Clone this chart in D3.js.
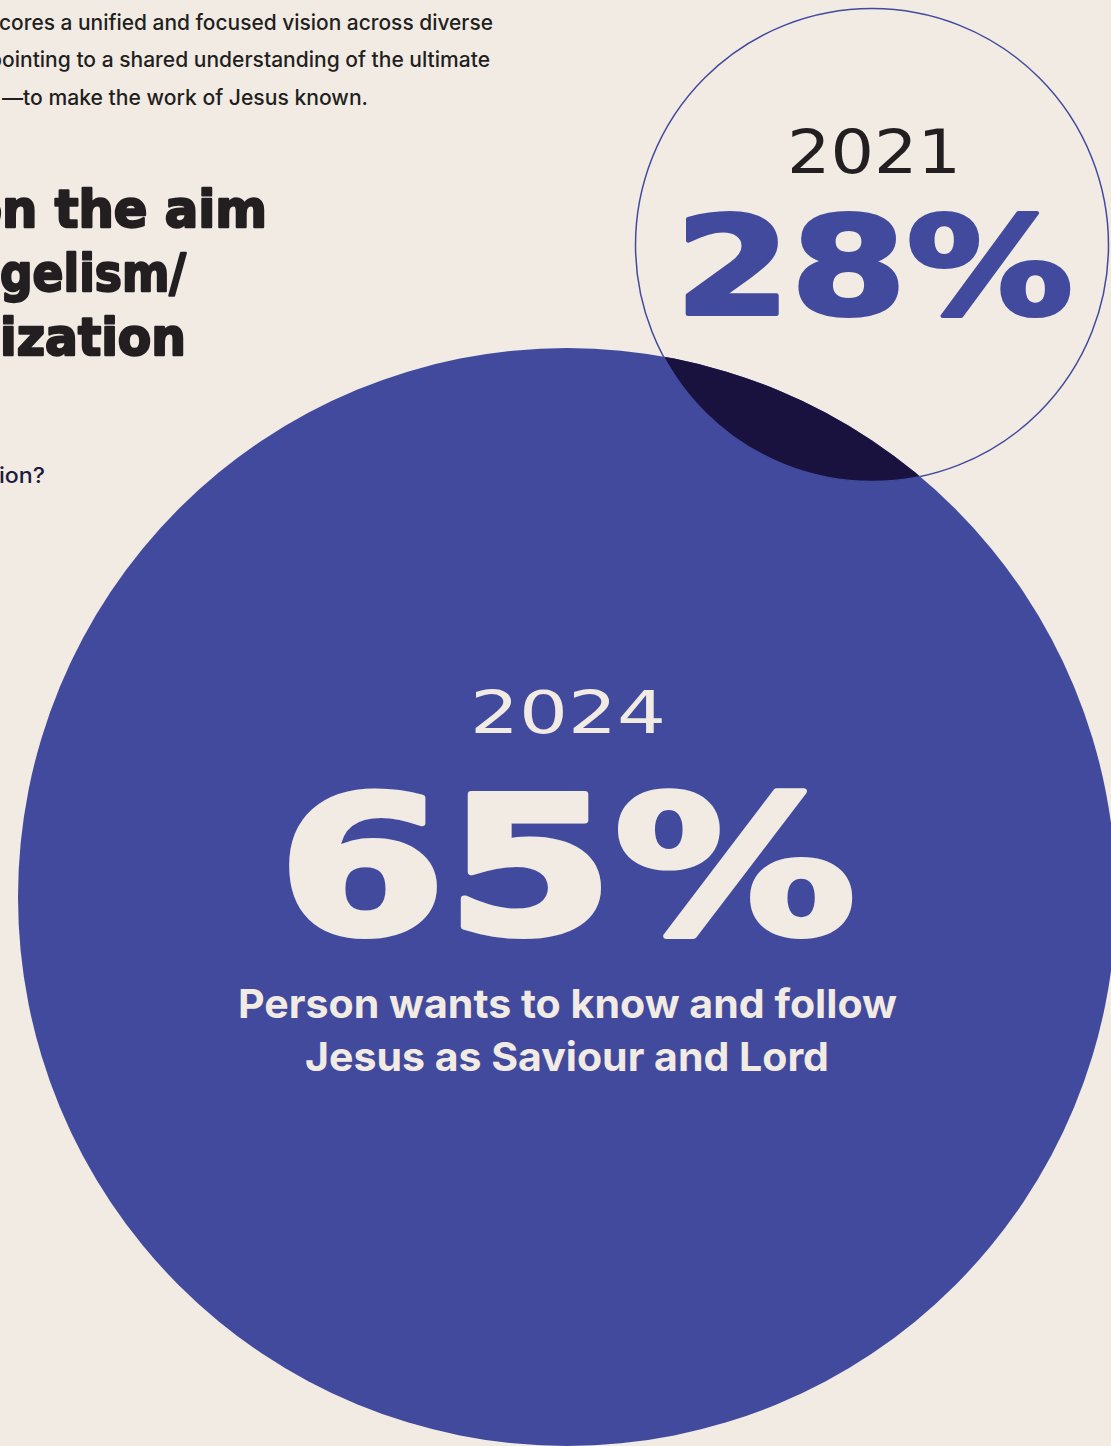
<!DOCTYPE html>
<html><head><meta charset="utf-8">
<script src="https://cdn.jsdelivr.net/npm/d3@7"></script>
<style>
html,body{margin:0;padding:0;background:#f1ebe4;overflow:hidden;}
svg{display:block;}
</style></head>
<body>
<script>
// ---- data ----
const years = ["2024", "2021"];
const values = [65, 28];
const valueLabels = ["65%", "28%"];
const answer = ["Person wants to know and follow", "Jesus as Saviour and Lord"];
const introLines = ["cores a unified and focused vision across diverse",
                    "pointing to a shared understanding of the ultimate",
                    "—to make the work of Jesus known."];
const headingLines = ["on the aim", "gelism/", "ization"];
const questionTail = "ion?";

// ---- layout ----
const W = 1111, H = 1446;
const BG = "#f1ebe4", BLUE = "#424a9e", NAVY = "#19123f", INK = "#231f20", CREAM = "#f1ebe4";
const svg = d3.select("body").append("svg").attr("width", W).attr("height", H);
svg.append("rect").attr("width", W).attr("height", H).attr("fill", BG);

const r = d3.scaleLinear().domain([0, 65]).range([0, 549]);
const centers = [{x: 567, y: 897}, {x: 872, y: 245}];
const circles = years.map((y, i) => ({year: y, value: values[i], label: valueLabels[i], cx: centers[i].x, cy: centers[i].y, r: r(values[i])}));
const big = circles[0], small = circles[1];

// intro text
const intro = svg.append("g").attr("font-family", "Inter, sans-serif").attr("font-weight", 500).attr("font-size", 21).attr("fill", INK);
const introX = [-1, -11, 2], introLen = [494, 501, 366];
introLines.forEach((t, i) => {
  intro.append("text").attr("x", introX[i]).attr("y", 30 + i * 37.3).text(t)
    .attr("textLength", introLen[i]).attr("lengthAdjust", "spacingAndGlyphs");
});

// heading
const head = svg.append("g").attr("font-family", "'DejaVu Sans', sans-serif").attr("font-weight", 700).attr("font-size", 52)
  .attr("fill", INK).attr("stroke", INK).attr("stroke-width", 2.4).attr("stroke-linejoin", "round");
const headX = [-32, 0, 0], headLen = [299, 186, 186];
headingLines.forEach((t, i) => {
  head.append("text").attr("x", headX[i]).attr("y", 227 + i * 64).text(t)
    .attr("textLength", headLen[i]).attr("lengthAdjust", "spacingAndGlyphs");
});
svg.append("text").attr("x", -1).attr("y", 483).attr("font-family", "Inter, sans-serif").attr("font-weight", 500).attr("font-size", 21)
  .attr("fill", "#1d1b40").attr("textLength", 46).attr("lengthAdjust", "spacingAndGlyphs").text(questionTail);

// circles
svg.append("circle").attr("cx", big.cx).attr("cy", big.cy).attr("r", big.r).attr("fill", BLUE);
const defs = svg.append("defs");
defs.append("clipPath").attr("id", "bigclip").append("circle").attr("cx", big.cx).attr("cy", big.cy).attr("r", big.r);
svg.append("circle").attr("cx", small.cx).attr("cy", small.cy).attr("r", small.r).attr("fill", NAVY).attr("clip-path", "url(#bigclip)");
svg.append("circle").attr("cx", small.cx).attr("cy", small.cy).attr("r", small.r).attr("fill", "none").attr("stroke", BLUE).attr("stroke-width", 1.5);

// small circle labels
svg.append("text").attr("x", 787).attr("y", 173).attr("font-family", "'DejaVu Sans', sans-serif").attr("font-size", 60)
  .attr("fill", INK).attr("textLength", 174).attr("lengthAdjust", "spacingAndGlyphs").text(small.year);
svg.append("text").attr("x", 675).attr("y", 314).attr("font-family", "'DejaVu Sans', sans-serif").attr("font-weight", 700).attr("font-size", 135)
  .attr("fill", BLUE).attr("stroke", BLUE).attr("stroke-width", 4).attr("stroke-linejoin", "round")
  .attr("textLength", 398).attr("lengthAdjust", "spacingAndGlyphs").text(small.label);

// big circle labels
svg.append("text").attr("x", 470).attr("y", 733).attr("font-family", "'DejaVu Sans', sans-serif").attr("font-size", 58)
  .attr("fill", CREAM).attr("textLength", 196).attr("lengthAdjust", "spacingAndGlyphs").text(big.year);
svg.append("text").attr("x", 278).attr("y", 933).attr("font-family", "'DejaVu Sans', sans-serif").attr("font-weight", 700).attr("font-size", 191)
  .attr("fill", CREAM).attr("stroke", CREAM).attr("stroke-width", 6).attr("stroke-linejoin", "round")
  .attr("textLength", 578).attr("lengthAdjust", "spacingAndGlyphs").text(big.label);

const ans = svg.append("g").attr("font-family", "Inter, sans-serif").attr("font-weight", 700).attr("font-size", 40).attr("fill", CREAM);
const ansX = [238, 305], ansLen = [659, 524];
answer.forEach((t, i) => {
  ans.append("text").attr("x", ansX[i]).attr("y", 1018 + i * 53).text(t)
    .attr("textLength", ansLen[i]).attr("lengthAdjust", "spacingAndGlyphs");
});
</script>
</body></html>
